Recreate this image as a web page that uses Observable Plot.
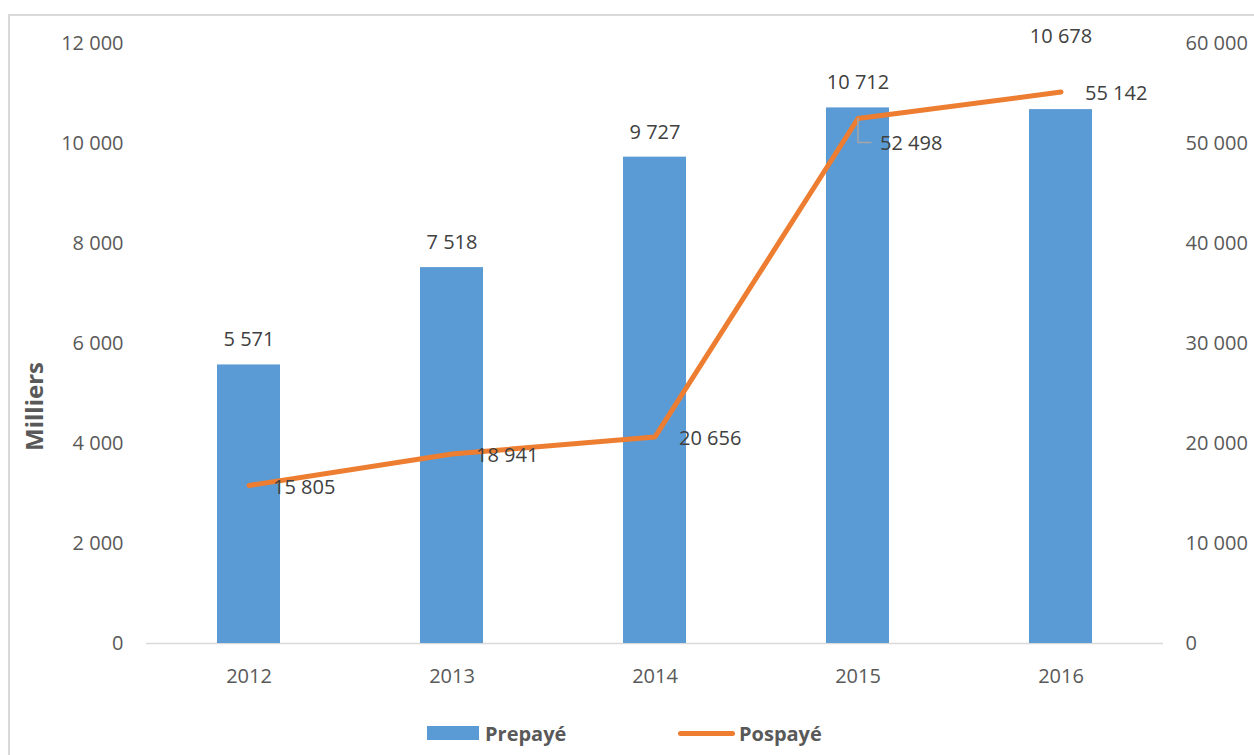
<!DOCTYPE html>
<html>
<head>
<meta charset="utf-8">
<script src="https://cdn.jsdelivr.net/npm/d3@7"></script>
<script src="https://cdn.jsdelivr.net/npm/@observablehq/plot@0.6"></script>
<style>
  html, body { margin: 0; padding: 0; background: #fff; width: 1254px; height: 755px; overflow: hidden; }
  #frame { position: absolute; left: 8px; top: 14px; width: 1300px; height: 800px;
           border-left: 2px solid #d9d9d9; border-top: 2px solid #d9d9d9; }
  #chart { position: absolute; left: 0; top: 0; }
  .legend { position: absolute; top: 719px; height: 28px; display: flex; align-items: center;
            font-family: "Open Sans", sans-serif; font-weight: bold; font-size: 20px; color: #595959; }
</style>
</head>
<body>
<div id="frame"></div>
<div id="chart"></div>
<div class="legend" style="left:427px"><span style="display:inline-block;width:52px;height:14px;background:#5b9bd5;margin-right:6px"></span>Prepayé</div>
<div class="legend" style="left:678px"><span style="display:inline-block;width:57px;height:5px;border-radius:3px;background:#ed7d31;margin-right:4px"></span>Pospayé</div>
<script>
const years = ["2012", "2013", "2014", "2015", "2016"];
const prepaye = [5571, 7518, 9727, 10712, 10678];
const pospaye = [15805, 18941, 20656, 52498, 55142];
const leftTicks = [0, 2000, 4000, 6000, 8000, 10000, 12000];
const rightTicks = [0, 10000, 20000, 30000, 40000, 50000, 60000];
const yAxisLabel = "Milliers";

const ratio = 60000 / 12000;
const data = years.map((y, i) => ({ year: y, pre: prepaye[i], pos: pospaye[i] }));
const fmt = v => d3.format(",")(v).replace(/,/g, " ");

const plot = Plot.plot({
  width: 1254,
  height: 700,
  marginLeft: 146,
  marginRight: 91,
  marginTop: 43,
  marginBottom: 57,
  style: { fontFamily: "Open Sans, sans-serif", fontSize: "20px", color: "#595959", background: "transparent", overflow: "visible" },
  x: { domain: years, paddingInner: 0.69, paddingOuter: 0.345, label: null },
  y: { domain: [0, 12000], label: null },
  marks: [
    Plot.axisY({ ticks: leftTicks, tickSize: 0, tickPadding: 23, tickFormat: fmt, label: null, fill: "#595959" }),
    Plot.axisY({ anchor: "right", ticks: rightTicks.map(v => v / ratio), tickSize: 0, tickPadding: 22,
                 tickFormat: d => fmt(Math.round(d * ratio)), label: null, fill: "#595959" }),
    Plot.axisX({ tickSize: 0, tickPadding: 25, label: null, fill: "#595959" }),
    Plot.ruleY([0], { stroke: "#d9d9d9", strokeWidth: 1.5 }),
    Plot.barY(data, { x: "year", y: "pre", fill: "#5b9bd5" }),
    Plot.line(data, { x: "year", y: d => d.pos / ratio, stroke: "#ed7d31", strokeWidth: 5,
                      strokeLinecap: "round", strokeLinejoin: "round" }),
    // bar labels
    Plot.text(data.filter(d => d.year !== "2016"), { x: "year", y: "pre", text: d => fmt(d.pre), dy: -25, fill: "#404040" }),
    Plot.text(data.filter(d => d.year === "2016"), { x: "year", y: "pre", text: d => fmt(d.pre), dy: -73, fill: "#404040" }),
    // line labels
    Plot.text(data.filter(d => d.year !== "2015"), { x: "year", y: d => d.pos / ratio, text: d => fmt(d.pos),
                 dx: 24, dy: 2, textAnchor: "start", fill: "#404040" }),
    Plot.text(data.filter(d => d.year === "2015"), { x: "year", y: d => d.pos / ratio, text: d => fmt(d.pos),
                 dx: 22, dy: 25, textAnchor: "start", fill: "#404040" }),
    // leader line for 2015 label
    Plot.ruleX(data.filter(d => d.year === "2015"), { x: "year", y1: d => d.pos / ratio, y2: d => d.pos / ratio,
                 insetBottom: -24, stroke: "#a6a6a6", strokeWidth: 1.5 }),
    Plot.tickY(data.filter(d => d.year === "2015"), { x: "year", y: d => d.pos / ratio, dy: 24,
                 insetLeft: 31.5, insetRight: 17.5, stroke: "#a6a6a6", strokeWidth: 1.5 }),
    // axis title
    Plot.text([yAxisLabel], { frameAnchor: "left", text: d => d, rotate: -90, dx: -111, dy: 63,
                 textAnchor: "middle", fontWeight: "bold", fontSize: 24, fill: "#595959" })
  ]
});
document.getElementById("chart").appendChild(plot);
</script>
</body>
</html>
